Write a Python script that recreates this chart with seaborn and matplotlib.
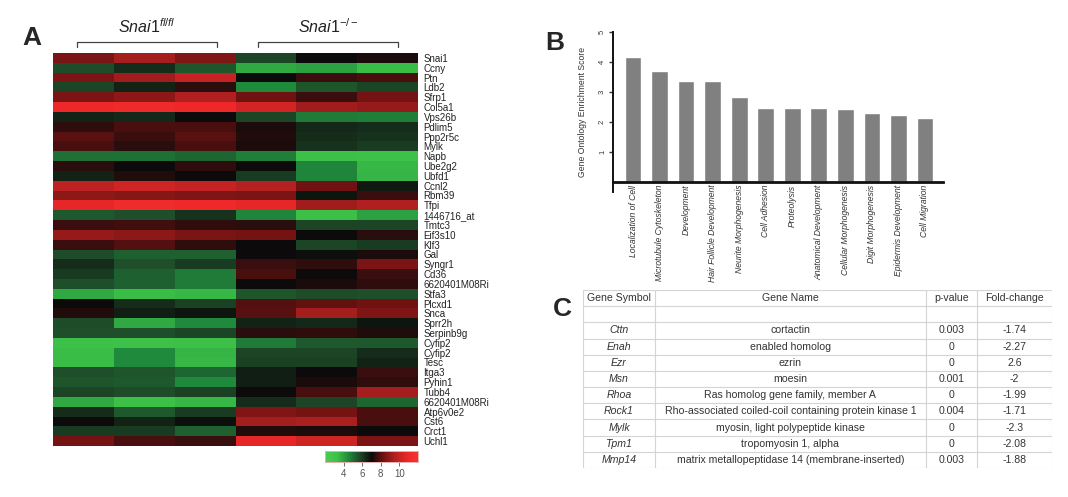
import matplotlib
matplotlib.use("Agg")
import matplotlib.pyplot as plt
from matplotlib.colors import LinearSegmentedColormap
import numpy as np
import pandas as pd
import seaborn as sns

# ---------------- data ----------------
genes = [
    "Snai1", "Ccny", "Ptn", "Ldb2", "Sfrp1", "Col5a1", "Vps26b", "Pdlim5",
    "Ppp2r5c", "Mylk", "Napb", "Ube2g2", "Ubfd1", "Ccnl2", "Rbm39", "Tfpi",
    "1446716_at", "Tmtc3", "Eif3s10", "Klf3", "Gal", "Syngr1", "Cd36",
    "6620401M08Ri", "Stfa3", "Plcxd1", "Snca", "Sprr2h", "Serpinb9g",
    "Cyfip2", "Cyfip2", "Tesc", "Itga3", "Pyhin1", "Tubb4", "6620401M08Ri",
    "Atp6v0e2", "Cst6", "Crct1", "Uchl1",
]
flfl_values = [
    [8.5, 9.3, 8.6], [5.7, 6.3, 5.5], [8.5, 9.2, 10.0], [5.8, 6.5, 7.4],
    [8.5, 8.8, 9.5], [11.0, 11.2, 11.0], [6.5, 6.4, 7.0], [7.5, 7.8, 7.8],
    [8.0, 7.6, 8.0], [7.8, 7.4, 7.8], [5.0, 5.0, 5.2], [7.4, 7.0, 7.5],
    [6.5, 7.3, 7.0], [9.8, 10.2, 10.0], [8.8, 8.7, 8.6], [10.8, 11.3, 11.1],
    [5.4, 5.6, 6.2], [7.6, 7.7, 7.5], [9.0, 8.8, 8.5], [7.6, 7.9, 7.5],
    [5.7, 5.3, 5.3], [6.3, 5.6, 6.0], [6.0, 5.3, 4.8], [5.6, 5.3, 4.8],
    [3.8, 3.4, 3.5], [7.0, 6.3, 5.9], [7.3, 6.6, 6.8], [5.7, 3.8, 4.5],
    [5.6, 5.6, 5.8], [3.3, 3.2, 3.3], [3.4, 4.5, 3.6], [3.4, 4.5, 3.5],
    [5.6, 5.5, 5.2], [5.5, 5.4, 4.5], [5.8, 5.7, 5.9], [3.8, 3.3, 3.5],
    [6.3, 5.4, 6.0], [7.0, 6.5, 6.9], [6.0, 6.0, 5.3], [8.4, 7.8, 7.6],
]
ko_values = [
    [5.8, 7.0, 7.2], [3.8, 4.0, 3.4], [7.0, 7.6, 7.8], [4.5, 5.5, 5.8],
    [8.3, 7.6, 8.4], [10.3, 9.2, 9.0], [5.8, 4.8, 4.7], [7.2, 6.4, 6.3],
    [7.3, 6.3, 6.2], [7.2, 6.2, 6.0], [4.7, 3.3, 3.2], [7.0, 4.6, 3.5],
    [6.0, 4.6, 3.6], [9.6, 8.3, 6.7], [8.5, 6.8, 7.6], [10.8, 9.2, 9.5],
    [4.6, 3.3, 4.0], [7.4, 5.8, 5.8], [8.4, 7.0, 7.4], [7.0, 5.8, 6.0],
    [7.0, 6.9, 7.2], [7.6, 7.5, 8.5], [7.8, 7.0, 7.6], [7.0, 7.2, 7.5],
    [5.5, 5.7, 5.6], [7.9, 8.1, 8.3], [8.0, 9.3, 8.6], [6.5, 6.4, 6.8],
    [7.4, 7.5, 7.3], [4.8, 5.4, 5.4], [5.8, 5.8, 6.3], [5.9, 5.9, 6.5],
    [6.6, 7.0, 7.6], [6.6, 7.2, 7.5], [7.0, 7.8, 9.3], [6.3, 5.8, 5.2],
    [8.6, 8.4, 7.8], [9.3, 9.4, 7.8], [7.3, 7.2, 7.0], [10.8, 10.2, 8.5],
]
cbar_ticks = [4, 6, 8, 10]

go_terms = [
    "Localization of Cell", "Microtubule Cytoskeleton", "Development",
    "Hair Follicle Development", "Neurite Morphogenesis", "Cell Adhesion",
    "Proteolysis", "Anatomical Development", "Cellular Morphogenesis",
    "Digit Morphogenesis", "Epidermis Development", "Cell Migration",
]
go_scores = [4.15, 3.69, 3.35, 3.35, 2.83, 2.45, 2.45, 2.45, 2.44, 2.31, 2.24, 2.12]

table_header = ["Gene Symbol", "Gene Name", "p-value", "Fold-change"]
gene_symbols = ["Cttn", "Enah", "Ezr", "Msn", "Rhoa", "Rock1", "Mylk", "Tpm1", "Mmp14"]
gene_names = [
    "cortactin", "enabled homolog", "ezrin", "moesin",
    "Ras homolog gene family, member A",
    "Rho-associated coiled-coil containing protein kinase 1",
    "myosin, light polypeptide kinase", "tropomyosin 1, alpha",
    "matrix metallopeptidase 14 (membrane-inserted)",
]
p_values = ["0.003", "0", "0", "0.001", "0", "0.004", "0", "0", "0.003"]
fold_changes = ["-1.74", "-2.27", "2.6", "-2", "-1.99", "-1.71", "-2.3", "-2.08", "-1.88"]

# ---------------- style ----------------
sns.set_style("white")
plt.rcParams["font.family"] = ["Liberation Sans", "DejaVu Sans"]
plt.rcParams["mathtext.fontset"] = "custom"
plt.rcParams["mathtext.it"] = "Liberation Sans:italic"
plt.rcParams["mathtext.rm"] = "Liberation Sans"

fig = plt.figure(figsize=(10.68, 4.97), dpi=100)
W, H = 1068, 497


def px_axes(x0, y0, x1, y1):
    return fig.add_axes([x0 / W, 1 - y1 / H, (x1 - x0) / W, (y1 - y0) / H])


# ---------------- panel A: heatmap ----------------
df_heat = pd.DataFrame(
    np.hstack([np.array(flfl_values), np.array(ko_values)]),
    index=genes,
    columns=["fl1", "fl2", "fl3", "ko1", "ko2", "ko3"],
)
# green - black - red expression scale (range 2..12, black near 7)
cmap = LinearSegmentedColormap.from_list(
    "gbr",
    [
        (0.00, "#4acc52"), (0.13, "#3cc048"), (0.25, "#1f8a3c"),
        (0.37, "#1e4a28"), (0.50, "#0a0a0a"), (0.63, "#701212"),
        (0.75, "#b02020"), (0.90, "#ee2828"), (1.00, "#f43232"),
    ],
)
ax_a = px_axes(53, 53, 418, 446)
ax_cb = px_axes(325, 451, 418, 462)
sns.heatmap(
    df_heat, ax=ax_a, cmap=cmap, vmin=2, vmax=12,
    cbar_ax=ax_cb, cbar_kws={"orientation": "horizontal", "ticks": cbar_ticks},
    xticklabels=False, yticklabels=True,
)
ax_a.yaxis.tick_right()
ax_a.tick_params(axis="y", length=0, pad=4, labelsize=7, labelrotation=0,
                 labelcolor="#222222")
ax_a.set_xlabel("")
ax_a.set_ylabel("")
ax_cb.tick_params(axis="x", length=3, width=0.6, labelsize=7, colors="#555555", pad=2)
for sp in ax_cb.spines.values():
    sp.set_visible(True)
    sp.set_edgecolor("#e8b0b0")
    sp.set_linewidth(0.6)

# group brackets over the columns
groups = [(r"$\mathit{Snai1}^{fl/fl}$", 0.066, 0.449), (r"$\mathit{Snai1}^{-/-}$", 0.562, 0.945)]
for label, gx0, gx1 in groups:
    ax_a.plot([gx0, gx0, gx1, gx1], [1.0153, 1.028, 1.028, 1.0153],
              transform=ax_a.transAxes, clip_on=False, color="#444444", lw=0.9)
    ax_a.text((gx0 + gx1) / 2, 1.042, label, transform=ax_a.transAxes,
              ha="center", va="bottom", fontsize=11.5, color="#222222")

# ---------------- panel B: GO enrichment bars ----------------
ax_b = px_axes(613, 32, 943, 192.5)
df_go = pd.DataFrame({"term": go_terms, "score": go_scores})
sns.barplot(data=df_go, x="term", y="score", color="#808080", width=0.63,
            saturation=1, ax=ax_b)
ax_b.set_ylim(-0.35, 5)
ax_b.set_xlim(-0.755, 11.68)
ax_b.set_yticks([1, 2, 3, 4, 5])
ax_b.spines["top"].set_visible(False)
ax_b.spines["right"].set_visible(False)
ax_b.spines["bottom"].set_position(("data", 0))
ax_b.spines["bottom"].set_linewidth(2)
ax_b.spines["left"].set_linewidth(1.4)
ax_b.spines["left"].set_color("#111111")
ax_b.spines["bottom"].set_color("#111111")
ax_b.tick_params(axis="y", left=True, length=3, width=1, labelsize=5.5,
                 labelrotation=90, colors="#333333", pad=2)
ax_b.tick_params(axis="x", bottom=False, length=0, pad=2)
plt.setp(ax_b.get_xticklabels(), rotation=90, ha="center", va="top",
         fontsize=6.2, style="italic", color="#333333")
ax_b.set_xlabel("")
ax_b.set_ylabel("Gene Ontology Enrichment Score", fontsize=6.2, color="#333333", labelpad=9)

# ---------------- panel C: table ----------------
ax_c = px_axes(583, 290, 1052, 468)
col_edges = [0, 0.1535, 0.731, 0.840, 1.0]
n_rows = 2 + len(gene_symbols)
ax_c.set_xlim(0, 1)
ax_c.set_ylim(n_rows, 0)
ax_c.axis("off")
for r in range(n_rows + 1):
    ax_c.axhline(r, color="#d4d4d4", lw=0.8)
for e in col_edges:
    ax_c.axvline(e, color="#d4d4d4", lw=0.8)
centers = [(col_edges[i] + col_edges[i + 1]) / 2 for i in range(4)]
for i, h in enumerate(table_header):
    ax_c.text(centers[i], 0.5, h, ha="center", va="center", fontsize=7.6, color="#333333")
for r, row in enumerate(zip(gene_symbols, gene_names, p_values, fold_changes)):
    for i, val in enumerate(row):
        ax_c.text(centers[i], r + 2.5, val, ha="center", va="center", fontsize=7.6,
                  color="#333333", style="italic" if i == 0 else "normal")

# ---------------- panel letters ----------------
fig.text(22 / W, 1 - 45 / H, "A", fontsize=19, fontweight="bold")
fig.text(545 / W, 1 - 50 / H, "B", fontsize=19, fontweight="bold")
fig.text(553 / W, 1 - 316 / H, "C", fontsize=19, fontweight="bold")

fig.savefig("out.png", dpi=100)
